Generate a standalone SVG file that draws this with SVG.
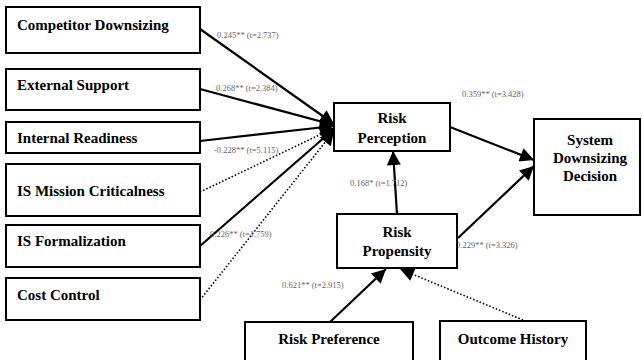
<svg xmlns="http://www.w3.org/2000/svg" width="642" height="360" viewBox="0 0 642 360">
<defs>
<marker id="ah" viewBox="0 0 10 10" refX="10" refY="5" markerWidth="7" markerHeight="7" markerUnits="userSpaceOnUse" orient="auto">
<path d="M0,0 L10,5 L0,10 z" fill="#000"/>
</marker>
<marker id="big" viewBox="0 0 10 10" refX="10" refY="5" markerWidth="18" markerHeight="14" markerUnits="userSpaceOnUse" orient="auto">
<path d="M0,0 L10,5 L0,10 z" fill="#000"/>
</marker>
</defs>
<style>
.box{fill:#fff;stroke:#000;stroke-width:2}
.t{font-family:"Liberation Serif","Times New Roman",serif;font-weight:bold;font-size:15px;fill:#000}
.c{text-anchor:middle}
.e{stroke:#000;stroke-width:2.2;fill:none}
.d{stroke:#000;stroke-width:1.6;fill:none;stroke-dasharray:1.5 2}
.l{font-family:"Liberation Serif","Times New Roman",serif;font-size:8.5px;fill:#666}
</style>
<rect width="642" height="360" fill="#fff"/>
<g id="connectors">
<line class="e" x1="200" y1="29" x2="334" y2="124" marker-end="url(#big)"/>
<line class="e" x1="200" y1="89" x2="334" y2="125" marker-end="url(#big)"/>
<line class="e" x1="200" y1="141" x2="334" y2="126" marker-end="url(#big)"/>
<line class="d" x1="200" y1="192" x2="334" y2="128" marker-end="url(#big)"/>
<line class="e" x1="200" y1="246" x2="334" y2="129" marker-end="url(#big)"/>
<line class="d" x1="200" y1="300" x2="334" y2="131" marker-end="url(#big)"/>
<line class="e" x1="450" y1="127" x2="534" y2="160" marker-end="url(#big)"/>
<line class="e" x1="458" y1="238" x2="534" y2="166" marker-end="url(#big)"/>
<line class="e" x1="397" y1="214" x2="393" y2="151" marker-end="url(#big)"/>
<line class="e" x1="330" y1="322" x2="386" y2="269" marker-end="url(#big)"/>
<line class="d" x1="523" y1="320" x2="400" y2="269" marker-end="url(#big)"/>
<text class="l" x="217" y="38">0.245** (t=2.737)</text>
<text class="l" x="216" y="91">0.268** (t=2.384)</text>
<text class="l" x="214" y="153">-0.228** (t=5.115)</text>
<text class="l" x="210" y="237">0.226** (t=1.759)</text>
<text class="l" x="462" y="97">0.359** (t=3.428)</text>
<text class="l" x="350" y="186">0.168* (t=1.712)</text>
<text class="l" x="456" y="248">0.229** (t=3.326)</text>
<text class="l" x="282" y="288">0.621** (t=2.915)</text>
</g>
<g id="competitor"><rect class="box" x="6" y="7" width="194" height="46"/><text class="t" x="17" y="30">Competitor Downsizing</text></g>
<g id="external"><rect class="box" x="6" y="69" width="194" height="41"/><text class="t" x="17" y="90">External Support</text></g>
<g id="internal"><rect class="box" x="6" y="122" width="194" height="31"/><text class="t" x="17" y="143">Internal Readiness</text></g>
<g id="mission"><rect class="box" x="6" y="164" width="194" height="52"/><text class="t" x="17" y="196">IS Mission Criticalness</text></g>
<g id="formalization"><rect class="box" x="6" y="225" width="194" height="42"/><text class="t" x="17" y="246">IS Formalization</text></g>
<g id="cost"><rect class="box" x="6" y="278" width="194" height="42"/><text class="t" x="17" y="300">Cost Control</text></g>
<g id="perception"><rect class="box" x="334" y="103" width="116" height="48"/><text class="t c" x="392" y="123">Risk</text><text class="t c" x="392" y="143">Perception</text></g>
<g id="decision"><rect class="box" x="534" y="119" width="106" height="96"/><text class="t c" x="590" y="145">System</text><text class="t c" x="590" y="163">Downsizing</text><text class="t c" x="590" y="181">Decision</text></g>
<g id="propensity"><rect class="box" x="337" y="214" width="120" height="54"/><text class="t c" x="397" y="237">Risk</text><text class="t c" x="397" y="256">Propensity</text></g>
<g id="preference"><rect class="box" x="245" y="322" width="168" height="45"/><text class="t c" x="329" y="344">Risk Preference</text></g>
<g id="outcome"><rect class="box" x="440" y="321" width="146" height="46"/><text class="t c" x="513" y="344">Outcome History</text></g>
</svg>
